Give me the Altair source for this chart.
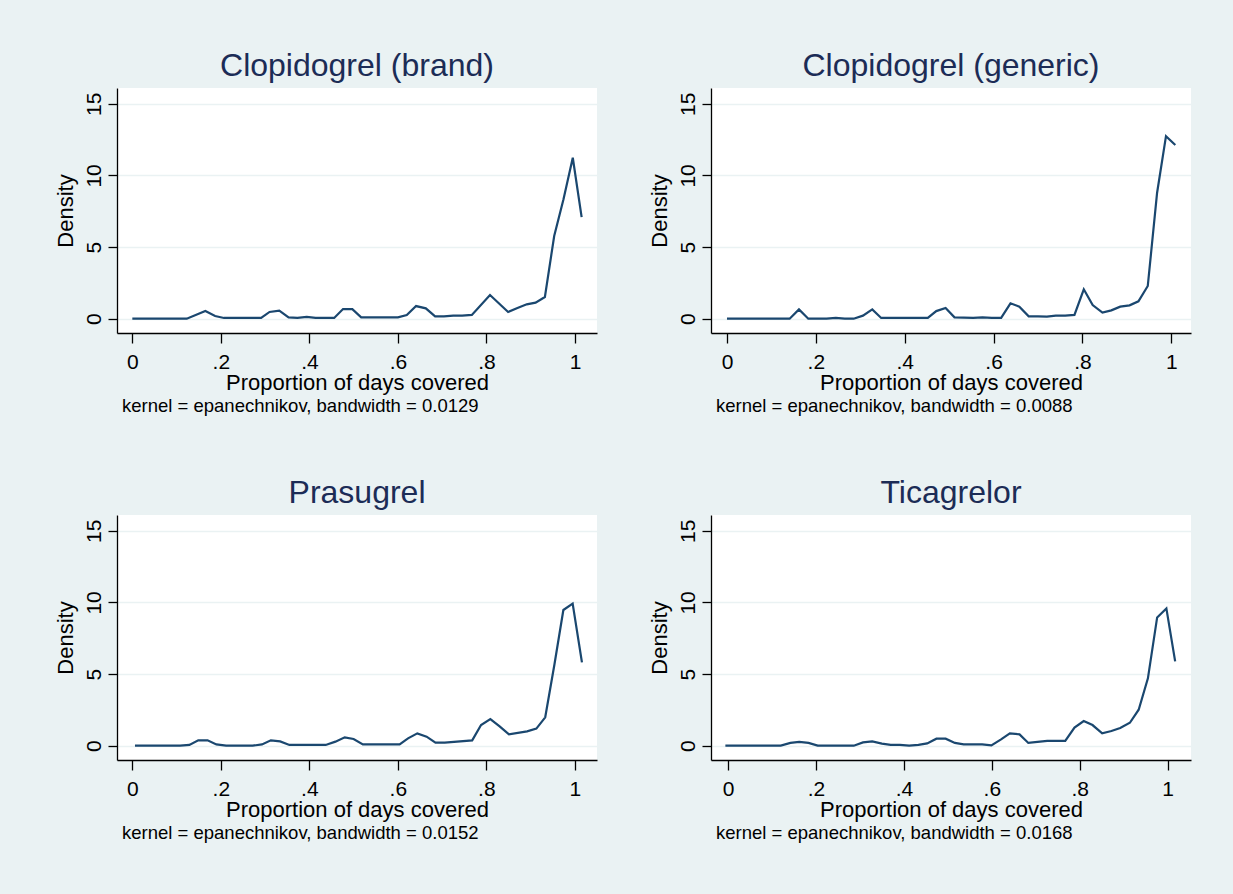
import altair as alt
import pandas as pd

# Kernel density estimates of the proportion of days covered, one panel per drug
titles = ["Clopidogrel (brand)", "Clopidogrel (generic)", "Prasugrel", "Ticagrelor"]
bandwidths = ["0.0129", "0.0088", "0.0152", "0.0168"]

pdc_brand = [0.000, 0.123, 0.165, 0.187, 0.207, 0.291, 0.310, 0.332, 0.353, 0.373,
             0.394, 0.414, 0.456, 0.476, 0.497, 0.517, 0.600, 0.620, 0.641, 0.663,
             0.684, 0.704, 0.725, 0.745, 0.767, 0.808, 0.849, 0.870, 0.891, 0.911,
             0.932, 0.953, 0.974, 0.995, 1.015]
dens_brand = [0.00, 0.00, 0.53, 0.19, 0.05, 0.05, 0.47, 0.56, 0.09, 0.05,
              0.12, 0.05, 0.05, 0.67, 0.67, 0.09, 0.09, 0.26, 0.88, 0.72,
              0.16, 0.16, 0.21, 0.21, 0.26, 1.65, 0.47, 0.74, 1.00, 1.12,
              1.51, 5.77, 8.33, 11.23, 7.09]

pdc_generic = [0.000, 0.141, 0.162, 0.183, 0.224, 0.245, 0.265, 0.285, 0.306, 0.327,
               0.347, 0.452, 0.471, 0.492, 0.512, 0.533, 0.554, 0.575, 0.596, 0.617,
               0.638, 0.658, 0.679, 0.700, 0.720, 0.740, 0.761, 0.782, 0.803, 0.823,
               0.845, 0.865, 0.885, 0.906, 0.926, 0.947, 0.968, 0.988, 1.009]
dens_generic = [0.00, 0.00, 0.65, 0.00, 0.00, 0.05, 0.00, 0.00, 0.21, 0.65,
                0.05, 0.05, 0.53, 0.74, 0.09, 0.07, 0.05, 0.09, 0.05, 0.05,
                1.07, 0.84, 0.16, 0.16, 0.14, 0.21, 0.21, 0.26, 2.05, 0.95,
                0.42, 0.58, 0.84, 0.93, 1.21, 2.28, 8.79, 12.74, 12.12]

pdc_prasugrel = [0.006, 0.108, 0.129, 0.149, 0.170, 0.190, 0.212, 0.272, 0.293, 0.313,
                 0.334, 0.355, 0.437, 0.459, 0.480, 0.500, 0.521, 0.604, 0.623, 0.644,
                 0.665, 0.685, 0.706, 0.768, 0.788, 0.809, 0.830, 0.851, 0.892, 0.913,
                 0.933, 0.954, 0.974, 0.995, 1.016]
dens_prasugrel = [0.00, 0.00, 0.05, 0.37, 0.37, 0.09, 0.00, 0.00, 0.09, 0.37,
                  0.30, 0.05, 0.05, 0.28, 0.58, 0.47, 0.09, 0.09, 0.51, 0.86,
                  0.63, 0.21, 0.21, 0.37, 1.44, 1.86, 1.35, 0.79, 1.00, 1.19,
                  1.98, 5.70, 9.47, 9.91, 5.81]

pdc_ticagrelor = [-0.006, 0.120, 0.142, 0.162, 0.183, 0.204, 0.286, 0.307, 0.328, 0.350,
                  0.370, 0.391, 0.412, 0.433, 0.453, 0.474, 0.495, 0.516, 0.536, 0.578,
                  0.599, 0.621, 0.641, 0.663, 0.683, 0.704, 0.726, 0.767, 0.788, 0.809,
                  0.829, 0.851, 0.872, 0.892, 0.914, 0.934, 0.955, 0.976, 0.997, 1.017]
dens_ticagrelor = [0.00, 0.00, 0.19, 0.26, 0.19, 0.00, 0.00, 0.23, 0.30, 0.14,
                   0.05, 0.05, 0.00, 0.05, 0.16, 0.49, 0.49, 0.19, 0.09, 0.09,
                   0.02, 0.44, 0.86, 0.79, 0.19, 0.26, 0.33, 0.33, 1.26, 1.72,
                   1.44, 0.86, 1.02, 1.23, 1.60, 2.51, 4.70, 8.95, 9.58, 5.88]

x_ticks = [0, 0.2, 0.4, 0.6, 0.8, 1]
y_ticks = [0, 5, 10, 15]

series = [(pdc_brand, dens_brand), (pdc_generic, dens_generic),
          (pdc_prasugrel, dens_prasugrel), (pdc_ticagrelor, dens_ticagrelor)]
x_domains = [[-0.0346, 1.0497], [-0.036, 1.0443], [-0.0346, 1.050], [-0.0387, 1.053]]

FONT = "Liberation Sans"
BG = "#EAF2F3"
LINE = "#1A476F"
NAVY = "#1C2C56"
W, H = 480, 245


def panel(title, xs, ys, bw, xdom):
    df = pd.DataFrame({"pdc": xs, "density": ys})
    line = alt.Chart(df).mark_line(color=LINE, strokeWidth=2.2).encode(
        x=alt.X(
            "pdc:Q",
            scale=alt.Scale(domain=xdom, nice=False, zero=False),
            axis=alt.Axis(
                values=x_ticks,
                labelExpr="replace(format(datum.value, '~g'), '0.', '.')",
                title="Proportion of days covered",
                grid=False,
                tickSize=10,
                labelPadding=25,
                labelBaseline="alphabetic",
                labelAlign="center",
                titleY=56,
                titleBaseline="alphabetic",
            ),
        ),
        y=alt.Y(
            "density:Q",
            scale=alt.Scale(domain=[-1.0, 16.1], nice=False, zero=False),
            axis=alt.Axis(
                values=y_ticks,
                title="Density",
                grid=True,
                gridColor=BG,
                gridWidth=1.5,
                tickSize=9,
                labelPadding=8,
                labelAngle=270,
                labelAlign="center",
                labelBaseline="alphabetic",
                titleAngle=270,
                titleX=-45,
                titleY=H / 2,
                titleAlign="center",
                titleBaseline="alphabetic",
            ),
        ),
    )
    note = alt.Chart(
        pd.DataFrame({"note": [f"kernel = epanechnikov, bandwidth = {bw}"]})
    ).mark_text(
        align="left", baseline="alphabetic", fontSize=18.5, font=FONT, color="black"
    ).encode(x=alt.value(5), y=alt.value(H + 79), text="note:N")
    return alt.layer(line, note).properties(
        width=W,
        height=H,
        title=alt.TitleParams(
            text=title, fontSize=32, font=FONT, fontWeight="normal", color=NAVY,
            anchor="middle", baseline="alphabetic", offset=-20,
        ),
    )


panels = [panel(t, xs, ys, bw, xd)
          for t, (xs, ys), bw, xd in zip(titles, series, bandwidths, x_domains)]

chart = alt.concat(
    *panels, columns=2, spacing={"row": 182, "column": 114}, bounds="flush"
).properties(
    background=BG,
    padding={"left": 54, "top": 50, "right": 42, "bottom": 52},
).configure_view(
    fill="white", stroke=None
).configure_axis(
    domainColor="black", domainWidth=1.3, tickColor="black", tickWidth=1.3,
    labelFont=FONT, labelFontSize=21, labelColor="black",
    titleFont=FONT, titleFontSize=22, titleFontWeight="normal", titleColor="black",
)

chart.save("out.html", embed_options={"renderer": "svg", "actions": False})
